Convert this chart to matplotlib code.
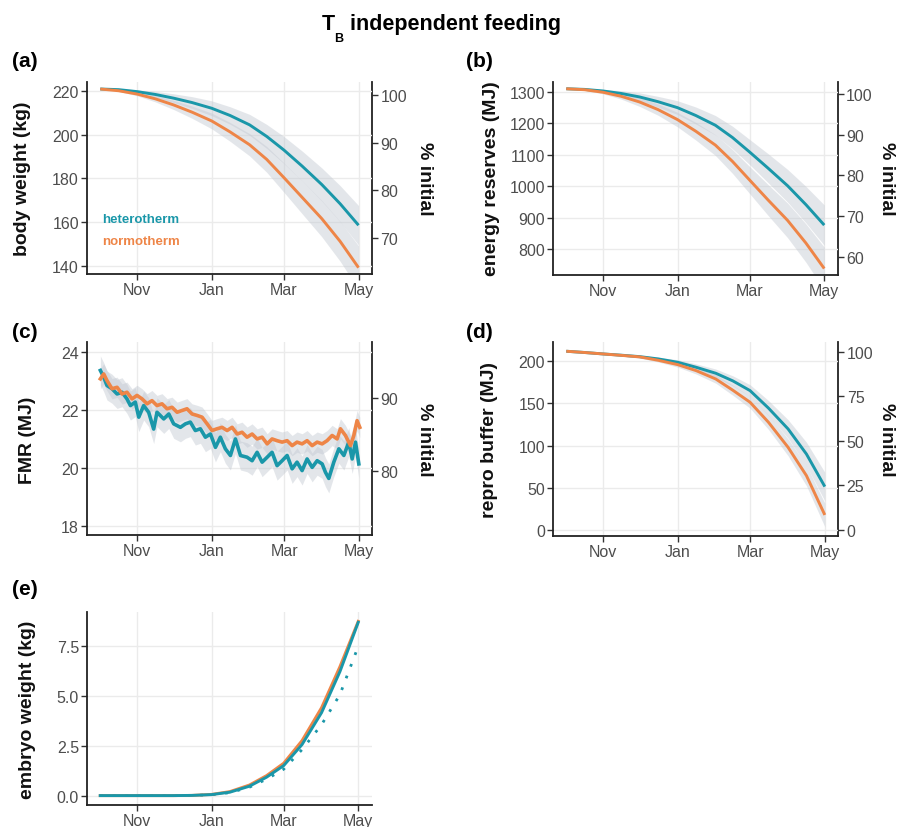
import numpy as np
import matplotlib.pyplot as plt
import matplotlib.dates as mdates

plt.rcParams['font.family'] = ['Liberation Sans', 'DejaVu Sans']

W, H = 911, 828
START = np.datetime64('2018-10-01')

TEAL = '#1A97A9'
ORANGE = '#EE8547'
BAND = '#C3C9D2'

# ---------------------------------------------------------------
# data (days counted from 1 Oct)
# ---------------------------------------------------------------
days = [1, 16, 31, 46, 61, 76, 92, 107, 123, 137, 151, 166, 182, 197, 212]

bw_het = [220.9, 220.6, 219.7, 218.4, 216.7, 214.7, 212.1, 208.8, 204.5, 199.2, 193.0, 185.6, 177.2, 168.4, 158.6]
bw_nor = [220.9, 220.1, 218.6, 216.4, 213.6, 210.3, 206.3, 201.3, 195.4, 188.7, 180.4, 171.3, 161.6, 151.2, 139.2]
bw_het_sd = [0, 0.3, 0.8, 1.4, 2.0, 2.7, 3.4, 4.0, 4.8, 5.5, 6.2, 6.9, 7.6, 8.3, 9.0]
bw_nor_sd = [0, 0.3, 0.8, 1.4, 2.1, 2.8, 3.6, 4.3, 5.1, 5.9, 6.7, 7.5, 8.3, 9.1, 10.0]

er_het = [1309, 1307, 1302, 1294, 1283, 1268, 1249, 1224, 1193, 1154, 1108, 1057, 1001, 941, 876]
er_nor = [1309, 1306, 1298, 1285, 1267, 1243, 1211, 1174, 1130, 1078, 1019, 956, 891, 819, 738]
er_het_sd = [0, 2, 5, 9, 13, 17, 22, 27, 31, 36, 40, 46, 52, 58, 64]
er_nor_sd = [0, 2, 5, 9, 14, 18, 23, 28, 33, 38, 43, 49, 55, 61, 68]

rb_het = [211.9, 210.4, 208.7, 207.2, 205.5, 202.8, 198.8, 192.9, 185.8, 176.7, 165.2, 144.5, 119.8, 90.0, 51.4]
rb_nor = [211.9, 210.4, 208.7, 207.0, 205.2, 201.2, 196.0, 188.9, 179.0, 165.6, 151.4, 127.7, 98.0, 64.4, 17.8]
rb_het_sd = [0, 0, 0.5, 1, 1.5, 2, 3, 4, 5, 6, 7, 9, 11, 14, 17]
rb_nor_sd = [0, 0, 0.5, 1, 1.5, 2, 3, 4, 5, 6, 7, 8.5, 10, 12, 14]

emb_het = [0, 0, 0, 0, 0, 0.01, 0.05, 0.17, 0.47, 0.92, 1.50, 2.55, 4.15, 6.20, 8.67]
emb_nor = [0, 0, 0, 0, 0, 0.01, 0.06, 0.20, 0.53, 1.00, 1.62, 2.75, 4.40, 6.45, 8.72]
emb_dot = [0, 0, 0, 0, 0, 0.01, 0.04, 0.15, 0.42, 0.82, 1.32, 2.30, 3.55, 5.05, 7.47]

fmr_het_days = [1.1, 3.8, 6.5, 10.6, 14.7, 18.8, 22.8, 25.6, 29.6, 32.4,
                36.4, 40.5, 44.6, 47.3, 52.8, 56.9, 60.9, 66.4, 70.5, 74.5,
                78.6, 82.7, 86.8, 90.9, 95.0, 99.0, 103.1, 107.2, 111.3, 115.4,
                120.8, 124.9, 129.0, 133.1, 137.2, 141.2, 145.3, 149.4, 153.5, 157.6,
                161.6, 165.7, 169.8, 173.9, 178.0, 182.1, 184.8, 187.5, 191.6, 195.7,
                199.8, 203.8, 206.6, 209.3, 212.0]
fmr_het = [23.37, 23.14, 22.85, 22.74, 22.56, 22.62, 22.39, 22.16, 22.28, 21.76,
           22.16, 21.93, 21.35, 21.93, 21.70, 21.87, 21.53, 21.41, 21.53, 21.59,
           21.30, 21.36, 21.07, 21.18, 20.72, 21.07, 20.67, 20.44, 21.01, 20.44,
           20.38, 20.26, 20.55, 20.21, 20.38, 20.55, 20.09, 20.26, 20.44, 19.98,
           20.21, 19.92, 20.32, 20.03, 20.26, 20.15, 19.86, 19.65, 20.21, 20.67,
           20.44, 20.90, 20.32, 20.90, 20.15]
fmr_nor_days = [1.1, 3.8, 6.5, 10.6, 14.7, 18.8, 22.8, 26.9, 31.0, 35.1,
                39.2, 43.2, 47.3, 51.4, 55.5, 59.6, 63.7, 67.7, 71.8, 75.9,
                80.0, 84.1, 88.2, 92.2, 96.3, 100.4, 104.5, 108.6, 112.7, 116.7,
                120.8, 124.9, 129.0, 133.1, 137.2, 141.2, 145.3, 149.4, 153.5, 157.6,
                161.6, 165.7, 169.8, 173.9, 178.0, 182.1, 186.1, 190.2, 194.3, 197.0,
                201.1, 205.2, 207.9, 210.6, 212.8]
fmr_nor = [23.08, 23.25, 23.02, 22.74, 22.79, 22.56, 22.62, 22.39, 22.51, 22.39,
           22.22, 22.33, 22.16, 22.22, 22.05, 22.10, 21.93, 21.99, 22.05, 21.87,
           21.82, 21.76, 21.53, 21.30, 21.36, 21.41, 21.30, 21.41, 21.18, 21.24,
           21.07, 21.18, 21.01, 21.07, 20.84, 21.01, 20.95, 20.90, 20.95, 20.78,
           20.90, 20.84, 20.95, 20.78, 20.90, 20.84, 20.95, 21.13, 21.01, 21.36,
           21.13, 20.78, 21.13, 21.64, 21.41]
fmr_het_sd = 0.5
fmr_nor_sd = 0.35

# reference value for "% initial" on the right axes
ref_bw, ref_er, ref_fmr, ref_rb = 218.2, 1292.0, 24.9, 211.4


def to_dates(d):
    return START + np.round(np.asarray(d, dtype=float) * 24).astype('timedelta64[h]')


def px_axes(fig, l, t, r, b):
    return fig.add_axes([l / W, 1 - b / H, (r - l) / W, (b - t) / H])


def label_px(fig, x, y, text, rot):
    fig.text(x / W, 1 - y / H, text, rotation=rot, ha='center', va='center',
             fontsize=14, fontweight='bold', color='#111111')


def base_style(ax, ylim, yticks, fmt=None):
    for s in ['top', 'right']:
        ax.spines[s].set_visible(False)
    for s in ['left', 'bottom']:
        ax.spines[s].set_color('#222222')
        ax.spines[s].set_linewidth(1.3)
    ax.set_xlim(to_dates(-9.6)[()], to_dates(223)[()])
    ax.xaxis.set_major_locator(mdates.MonthLocator(bymonth=[11, 1, 3, 5]))
    ax.xaxis.set_major_formatter(mdates.DateFormatter('%b'))
    ax.set_ylim(*ylim)
    ax.set_yticks(yticks)
    if fmt:
        ax.set_yticklabels([fmt.format(v) for v in yticks])
    ax.tick_params(direction='out', length=4, width=1, color='#333333',
                   labelsize=11.5, labelcolor='#4D4D4D', pad=2)
    ax.grid(True, color='#EBEBEB', lw=1.0)
    ax.set_axisbelow(True)


def right_axis(ax, ref, ticks):
    sec = ax.secondary_yaxis('right', functions=(lambda v: v / ref * 100,
                                                 lambda p: p * ref / 100))
    sec.set_yticks(ticks)
    sec.spines['right'].set_color('#222222')
    sec.spines['right'].set_linewidth(1.3)
    sec.tick_params(direction='out', length=4, width=1, color='#333333',
                    labelsize=11.5, labelcolor='#4D4D4D', pad=2)


def smooth_panel(ax, het, nor, het_sd, nor_sd):
    x = to_dates(days)
    h = np.asarray(het, float)
    n = np.asarray(nor, float)
    hs = np.asarray(het_sd, float)
    ns = np.asarray(nor_sd, float)
    ax.fill_between(x, h - hs, h + hs, color=BAND, alpha=0.45, lw=0)
    ax.fill_between(x, n - ns, n + ns, color=BAND, alpha=0.45, lw=0)
    ax.plot(x, h, color=TEAL, lw=2.1, solid_capstyle='butt')
    ax.plot(x, n, color=ORANGE, lw=2.1, solid_capstyle='butt')


fig = plt.figure(figsize=(W / 100, H / 100), dpi=100)

# (a) body weight
ax_a = px_axes(fig, 87.3, 83, 372, 275)
smooth_panel(ax_a, bw_het, bw_nor, bw_het_sd, bw_nor_sd)
base_style(ax_a, (136.3, 224.1), [140, 160, 180, 200, 220])
right_axis(ax_a, ref_bw, [70, 80, 90, 100])
label_px(fig, 23, 179, 'body weight (kg)', 90)
label_px(fig, 424, 179, '% initial', 270)
fig.text(102 / W, 1 - 223 / H, 'heterotherm', color=TEAL, fontsize=9.5,
         fontweight='bold', va='baseline')
fig.text(102 / W, 1 - 245 / H, 'normotherm', color=ORANGE, fontsize=9.5,
         fontweight='bold', va='baseline')

# (b) energy reserves
ax_b = px_axes(fig, 553.3, 83, 837.7, 276)
smooth_panel(ax_b, er_het, er_nor, er_het_sd, er_nor_sd)
base_style(ax_b, (717.5, 1330.5), [800, 900, 1000, 1100, 1200, 1300])
right_axis(ax_b, ref_er, [60, 70, 80, 90, 100])
label_px(fig, 491, 179, 'energy reserves (MJ)', 90)
label_px(fig, 887, 179, '% initial', 270)

# (c) FMR
ax_c = px_axes(fig, 87.3, 343.3, 372.3, 536)
xh = to_dates(fmr_het_days)
xn = to_dates(fmr_nor_days)
fh = np.asarray(fmr_het)
fn = np.asarray(fmr_nor)
ax_c.fill_between(xh, fh - fmr_het_sd, fh + fmr_het_sd, color=BAND, alpha=0.45, lw=0)
ax_c.fill_between(xn, fn - fmr_nor_sd, fn + fmr_nor_sd, color=BAND, alpha=0.45, lw=0)
ax_c.plot(xh, fh, color=TEAL, lw=2.6)
ax_c.plot(xn, fn, color=ORANGE, lw=2.6)
base_style(ax_c, (17.7, 24.34), [18, 20, 22, 24])
right_axis(ax_c, ref_fmr, [80, 90])
label_px(fig, 28, 440, 'FMR (MJ)', 90)
label_px(fig, 425, 440, '% initial', 270)

# (d) repro buffer
ax_d = px_axes(fig, 553.3, 343.3, 838.3, 536.7)
smooth_panel(ax_d, rb_het, rb_nor, rb_het_sd, rb_nor_sd)
base_style(ax_d, (-6.8, 222.5), [0, 50, 100, 150, 200])
right_axis(ax_d, ref_rb, [0, 25, 50, 75, 100])
label_px(fig, 490, 440, 'repro buffer (MJ)', 90)
label_px(fig, 887, 440, '% initial', 270)

# (e) embryo weight
ax_e = px_axes(fig, 87.3, 613.3, 371.7, 806)
xe = to_dates(days)
ax_e.plot(xe, emb_dot, color=TEAL, lw=2.0, linestyle=(0, (1, 3.5)))
ax_e.plot(xe, emb_nor, color=ORANGE, lw=2.1)
ax_e.plot(xe, emb_het, color=TEAL, lw=2.1)
base_style(ax_e, (-0.47, 9.17), [0, 2.5, 5.0, 7.5], fmt='{:.1f}')
label_px(fig, 28, 710, 'embryo weight (kg)', 90)

# panel tags and title
for tag, x, y in [('(a)', 12, 67), ('(b)', 466, 67), ('(c)', 12, 338),
                  ('(d)', 466, 338), ('(e)', 12, 595)]:
    fig.text(x / W, 1 - y / H, tag, fontsize=15, fontweight='bold', va='baseline')

fig.text(322 / W, 1 - 30 / H, 'T', fontsize=15.5, fontweight='bold', va='baseline')
fig.text(334 / W, 1 - 42 / H, 'B', fontsize=9, fontweight='bold', va='baseline')
fig.text(350 / W, 1 - 30 / H, 'independent feeding', fontsize=15.5, fontweight='bold',
         va='baseline')

fig.savefig('out.png', dpi=100)
